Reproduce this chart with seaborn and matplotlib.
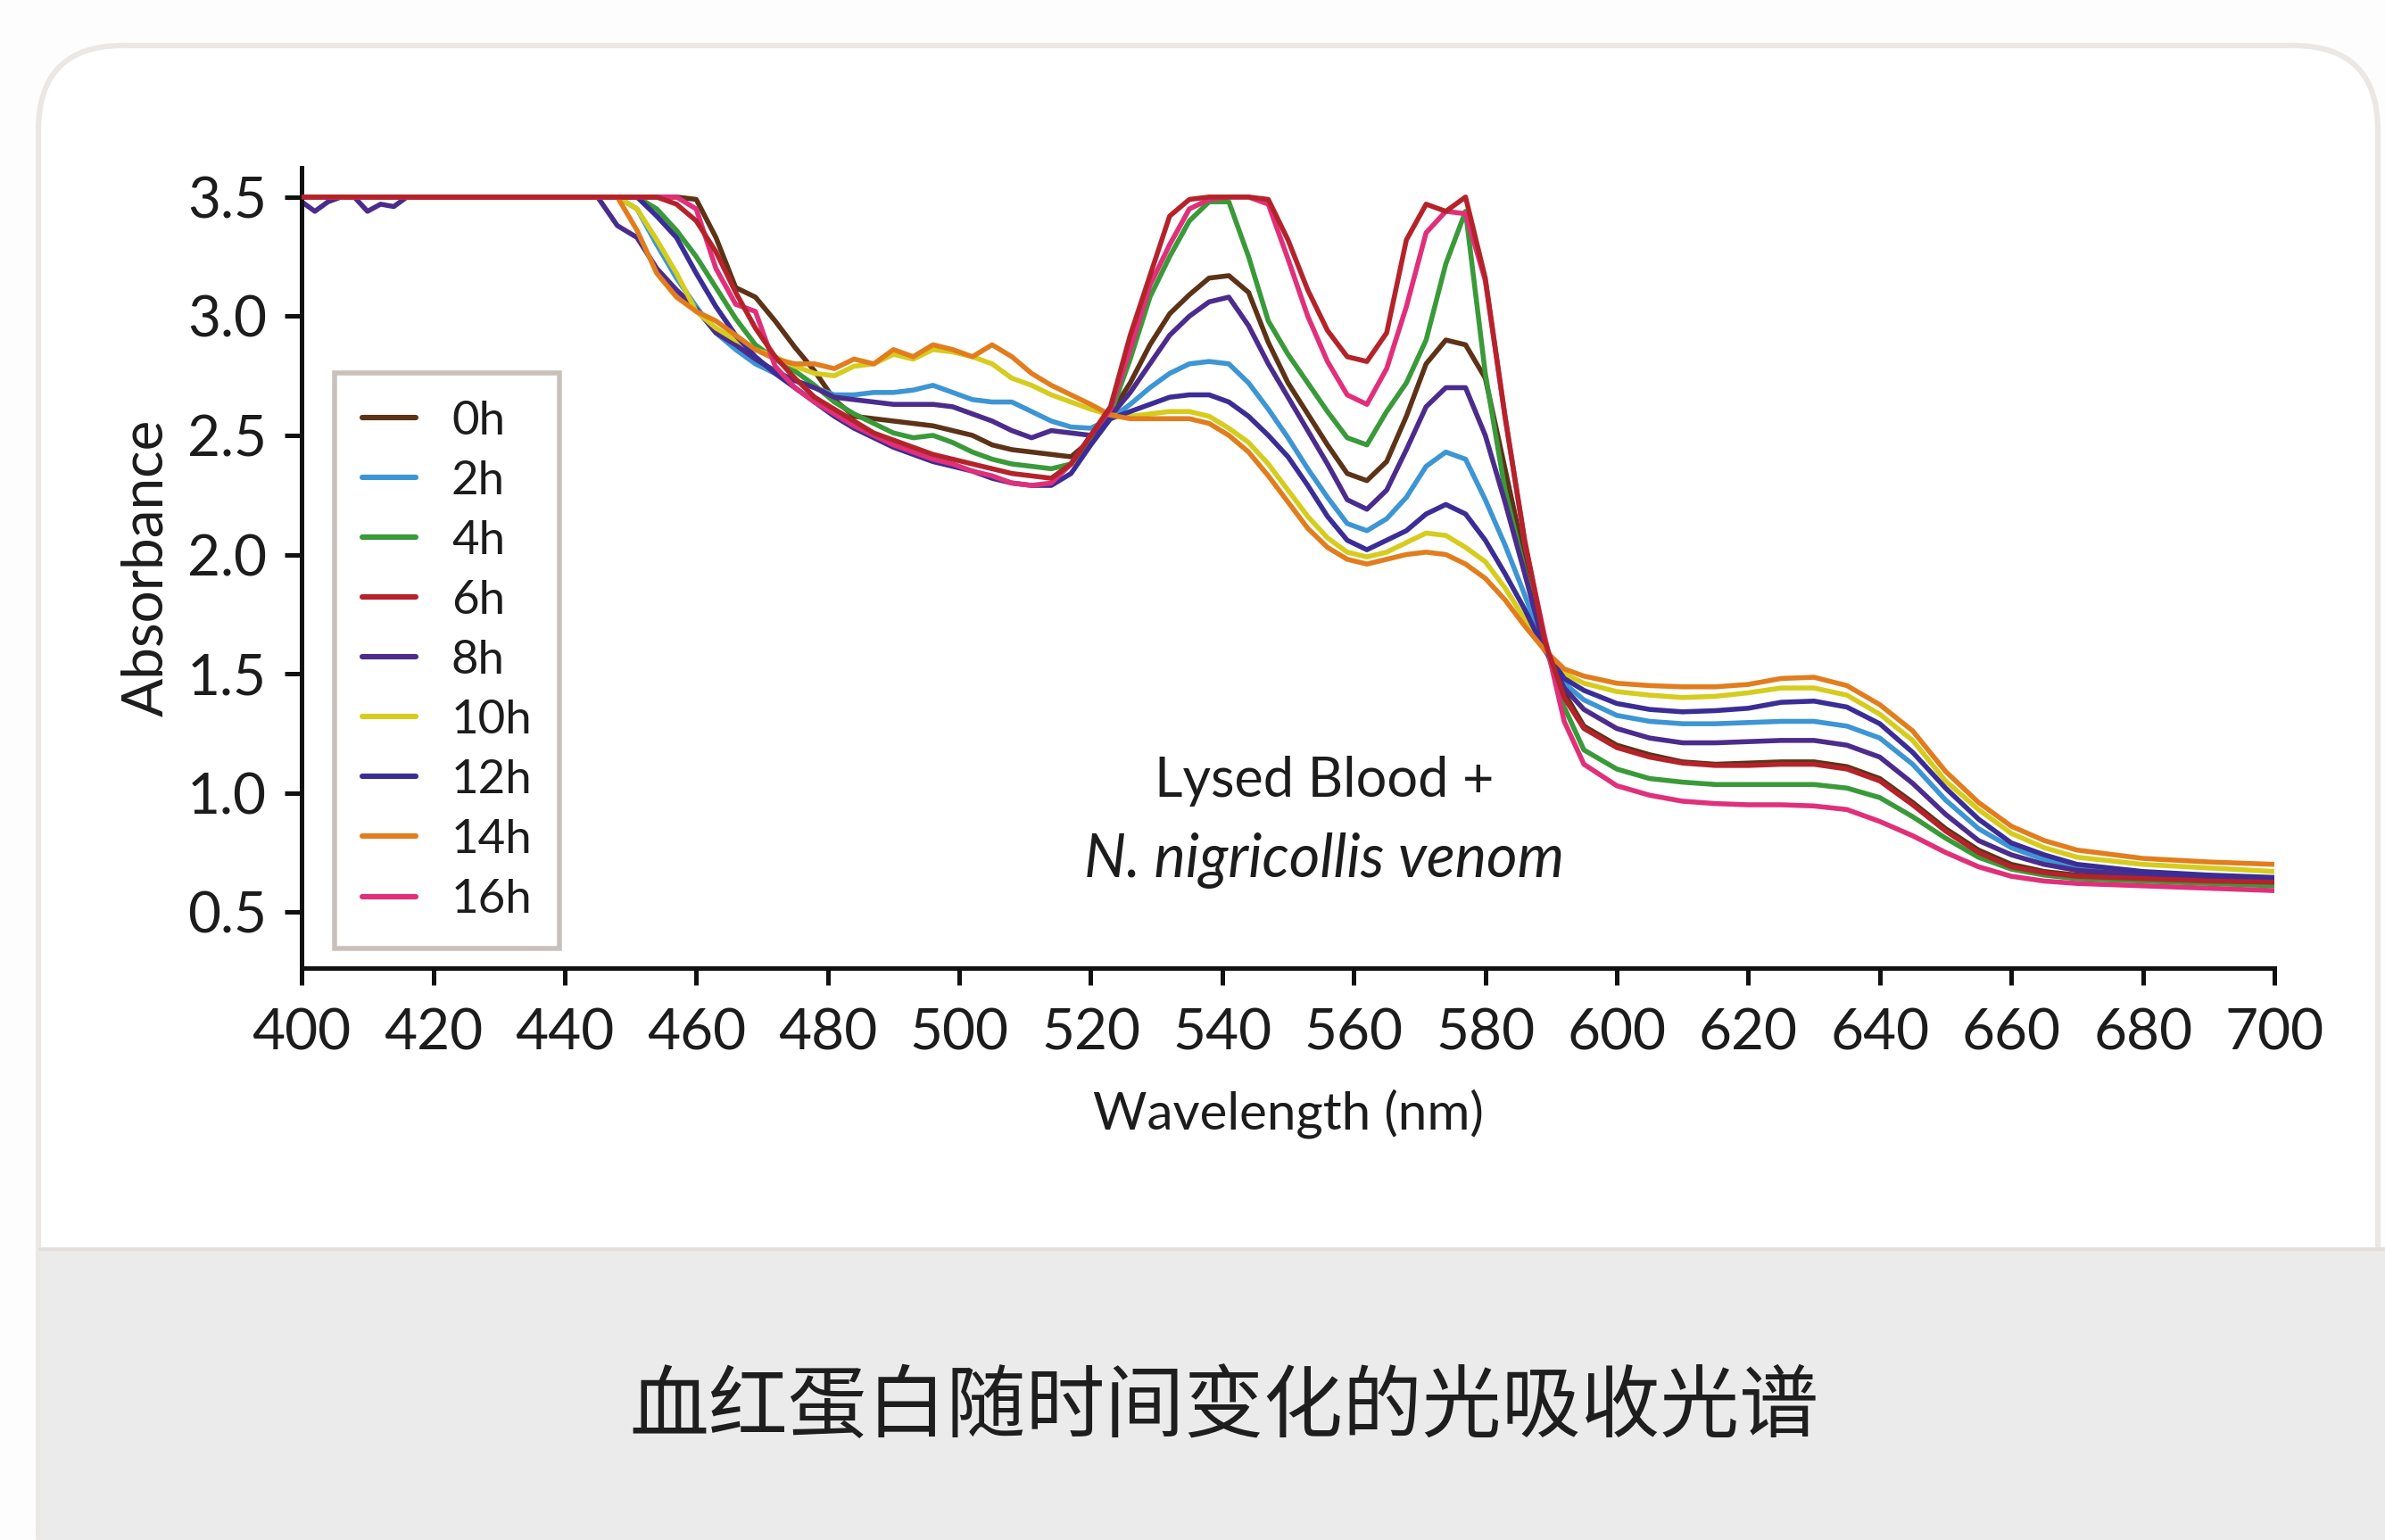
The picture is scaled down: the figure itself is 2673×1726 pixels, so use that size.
import matplotlib
matplotlib.use("Agg")
import matplotlib.pyplot as plt
import matplotlib.colors as mcolors
from matplotlib.patches import FancyBboxPatch, Rectangle
import numpy as np
import pandas as pd
import seaborn as sns

# ---------------- data ----------------
wavelength = [400, 402, 404, 406, 408, 410, 412, 414, 416, 418,
              445, 448, 451, 454, 457, 460, 463, 466, 469, 472,
              475, 478, 481, 484, 487, 490, 493, 496, 499, 502,
              505, 508, 511, 514, 517, 520, 523, 526, 529, 532,
              535, 538, 541, 544, 547, 550, 553, 556, 559, 562,
              565, 568, 571, 574, 577, 580, 583, 586, 589, 592,
              595, 600, 605, 610, 615, 620, 625, 630, 635, 640,
              645, 650, 655, 660, 665, 670, 680, 690, 700]

abs_0h = [3.5, 3.5, 3.5, 3.5, 3.5, 3.5, 3.5, 3.5, 3.5, 3.5,
          3.5, 3.5, 3.5, 3.5, 3.5, 3.49, 3.33, 3.12, 3.08, 2.98,
          2.87, 2.77, 2.65, 2.58, 2.57, 2.56, 2.55, 2.54, 2.52, 2.50,
          2.46, 2.44, 2.43, 2.42, 2.41, 2.48, 2.59, 2.72, 2.88, 3.01,
          3.09, 3.16, 3.17, 3.10, 2.89, 2.72, 2.59, 2.46, 2.34, 2.31,
          2.39, 2.58, 2.80, 2.90, 2.88, 2.74, 2.36, 1.98, 1.62, 1.42,
          1.28, 1.20, 1.16, 1.13, 1.12, 1.125, 1.13, 1.13, 1.11, 1.06,
          0.96, 0.85, 0.76, 0.70, 0.67, 0.655, 0.645, 0.635, 0.63]

abs_2h = [3.5, 3.5, 3.5, 3.5, 3.5, 3.5, 3.5, 3.5, 3.5, 3.5,
          3.5, 3.5, 3.45, 3.30, 3.16, 3.04, 2.93, 2.86, 2.80, 2.76,
          2.73, 2.70, 2.67, 2.67, 2.68, 2.68, 2.69, 2.71, 2.68, 2.65,
          2.64, 2.64, 2.60, 2.56, 2.535, 2.53, 2.57, 2.63, 2.70, 2.76,
          2.80, 2.81, 2.80, 2.72, 2.61, 2.49, 2.36, 2.24, 2.13, 2.10,
          2.15, 2.24, 2.37, 2.43, 2.40, 2.23, 2.04, 1.83, 1.61, 1.46,
          1.39, 1.325, 1.30, 1.29, 1.29, 1.295, 1.30, 1.30, 1.28, 1.23,
          1.12, 0.97, 0.85, 0.77, 0.72, 0.69, 0.66, 0.645, 0.635]

abs_4h = [3.5, 3.5, 3.5, 3.5, 3.5, 3.5, 3.5, 3.5, 3.5, 3.5,
          3.5, 3.5, 3.5, 3.45, 3.36, 3.25, 3.12, 2.99, 2.88, 2.82,
          2.77, 2.71, 2.64, 2.59, 2.55, 2.51, 2.49, 2.50, 2.47, 2.43,
          2.40, 2.38, 2.37, 2.36, 2.38, 2.48, 2.59, 2.82, 3.08, 3.25,
          3.40, 3.48, 3.48, 3.25, 2.98, 2.84, 2.72, 2.60, 2.49, 2.46,
          2.60, 2.72, 2.90, 3.22, 3.44, 2.76, 2.27, 1.93, 1.63, 1.36,
          1.18, 1.10, 1.06, 1.045, 1.035, 1.035, 1.035, 1.035, 1.02, 0.98,
          0.90, 0.81, 0.73, 0.68, 0.655, 0.64, 0.63, 0.62, 0.61]

abs_6h = [3.5, 3.5, 3.5, 3.5, 3.5, 3.5, 3.5, 3.5, 3.5, 3.5,
          3.5, 3.5, 3.5, 3.5, 3.47, 3.40, 3.27, 3.10, 2.95, 2.83,
          2.74, 2.66, 2.61, 2.56, 2.51, 2.48, 2.45, 2.42, 2.40, 2.38,
          2.36, 2.34, 2.33, 2.32, 2.38, 2.50, 2.62, 2.92, 3.17, 3.42,
          3.49, 3.5, 3.5, 3.5, 3.49, 3.32, 3.11, 2.94, 2.83, 2.81,
          2.93, 3.32, 3.47, 3.44, 3.50, 3.16, 2.58, 2.06, 1.64, 1.40,
          1.27, 1.19, 1.15, 1.125, 1.115, 1.115, 1.12, 1.12, 1.10, 1.05,
          0.95, 0.84, 0.75, 0.69, 0.665, 0.65, 0.64, 0.63, 0.625]

abs_8h = [3.48, 3.44, 3.48, 3.5, 3.5, 3.44, 3.47, 3.46, 3.5, 3.5,
          3.5, 3.38, 3.33, 3.20, 3.11, 3.03, 2.93, 2.88, 2.82, 2.77,
          2.73, 2.70, 2.66, 2.65, 2.64, 2.63, 2.63, 2.63, 2.62, 2.59,
          2.56, 2.52, 2.49, 2.52, 2.51, 2.50, 2.58, 2.68, 2.80, 2.92,
          3.00, 3.06, 3.08, 2.96, 2.80, 2.66, 2.52, 2.38, 2.23, 2.19,
          2.27, 2.44, 2.62, 2.70, 2.70, 2.50, 2.22, 1.92, 1.61, 1.44,
          1.35, 1.27, 1.23, 1.21, 1.21, 1.215, 1.22, 1.22, 1.20, 1.15,
          1.04, 0.91, 0.80, 0.74, 0.70, 0.675, 0.655, 0.645, 0.64]

abs_10h = [3.5, 3.5, 3.5, 3.5, 3.5, 3.5, 3.5, 3.5, 3.5, 3.5,
           3.5, 3.5, 3.45, 3.32, 3.18, 3.02, 2.95, 2.90, 2.86, 2.83,
           2.79, 2.76, 2.75, 2.79, 2.80, 2.84, 2.82, 2.86, 2.85, 2.83,
           2.80, 2.74, 2.71, 2.67, 2.64, 2.61, 2.585, 2.58, 2.59, 2.60,
           2.60, 2.58, 2.53, 2.47, 2.38, 2.27, 2.16, 2.07, 2.01, 1.99,
           2.01, 2.05, 2.09, 2.08, 2.03, 1.97, 1.86, 1.73, 1.60, 1.50,
           1.46, 1.425, 1.41, 1.40, 1.405, 1.42, 1.44, 1.44, 1.41, 1.33,
           1.22, 1.05, 0.93, 0.83, 0.77, 0.73, 0.70, 0.685, 0.67]

abs_12h = [3.5, 3.5, 3.5, 3.5, 3.5, 3.5, 3.5, 3.5, 3.5, 3.5,
           3.5, 3.5, 3.5, 3.42, 3.33, 3.18, 3.04, 2.92, 2.83, 2.76,
           2.70, 2.64, 2.58, 2.53, 2.49, 2.45, 2.42, 2.39, 2.37, 2.35,
           2.32, 2.30, 2.29, 2.29, 2.34, 2.46, 2.57, 2.60, 2.63, 2.66,
           2.67, 2.67, 2.64, 2.58, 2.50, 2.41, 2.29, 2.16, 2.06, 2.02,
           2.06, 2.10, 2.17, 2.21, 2.17, 2.06, 1.92, 1.77, 1.60, 1.48,
           1.43, 1.375, 1.35, 1.34, 1.345, 1.355, 1.38, 1.385, 1.36, 1.29,
           1.17, 1.02, 0.89, 0.79, 0.74, 0.70, 0.67, 0.655, 0.645]

abs_14h = [3.5, 3.5, 3.5, 3.5, 3.5, 3.5, 3.5, 3.5, 3.5, 3.5,
           3.5, 3.5, 3.36, 3.18, 3.08, 3.02, 2.98, 2.92, 2.86, 2.82,
           2.80, 2.80, 2.78, 2.82, 2.80, 2.86, 2.83, 2.88, 2.86, 2.83,
           2.88, 2.83, 2.76, 2.71, 2.67, 2.63, 2.585, 2.57, 2.57, 2.57,
           2.57, 2.55, 2.50, 2.43, 2.33, 2.22, 2.11, 2.03, 1.98, 1.96,
           1.98, 2.00, 2.01, 2.00, 1.96, 1.90, 1.81, 1.70, 1.60, 1.52,
           1.49, 1.46, 1.45, 1.445, 1.445, 1.455, 1.48, 1.485, 1.45, 1.37,
           1.26, 1.09, 0.96, 0.86, 0.80, 0.76, 0.725, 0.71, 0.70]

abs_16h = [3.5, 3.5, 3.5, 3.5, 3.5, 3.5, 3.5, 3.5, 3.5, 3.5,
           3.5, 3.5, 3.5, 3.5, 3.5, 3.45, 3.20, 3.05, 3.02, 2.79,
           2.70, 2.64, 2.59, 2.54, 2.50, 2.46, 2.43, 2.40, 2.38, 2.35,
           2.33, 2.30, 2.29, 2.30, 2.38, 2.50, 2.61, 2.86, 3.13, 3.30,
           3.45, 3.49, 3.5, 3.5, 3.47, 3.24, 3.00, 2.81, 2.67, 2.63,
           2.78, 3.04, 3.35, 3.44, 3.43, 3.15, 2.58, 2.05, 1.66, 1.30,
           1.12, 1.03, 0.99, 0.965, 0.955, 0.95, 0.95, 0.945, 0.93, 0.88,
           0.82, 0.75, 0.69, 0.65, 0.63, 0.62, 0.61, 0.60, 0.59]

times = ["0h", "2h", "4h", "6h", "8h", "10h", "12h", "14h", "16h"]
series = [abs_0h, abs_2h, abs_4h, abs_6h, abs_8h, abs_10h, abs_12h, abs_14h, abs_16h]
line_colors = ["#5c3317", "#3d95d4", "#3a9a3a", "#b5232a", "#4b2c8c",
               "#d6cc1e", "#3b2d96", "#e27d1e", "#e0307a"]

x_ticks = list(range(400, 701, 20))
y_ticks = [0.5, 1.0, 1.5, 2.0, 2.5, 3.0, 3.5]
caption = "血红蛋白随时间变化的光吸收光谱"

# ---------------- table ----------------
rows = []
for t, vals in zip(times, series):
    for w, v in zip(wavelength, vals):
        rows.append((t, w, v))
df = pd.DataFrame(rows, columns=["Time", "Wavelength", "Absorbance"])

# ---------------- style ----------------
sns.set_theme(style="ticks")
plt.rcParams["font.family"] = ["Lato", "Noto Sans CJK SC", "DejaVu Sans"]
plt.rcParams["text.color"] = "#1c1c1c"
plt.rcParams["axes.labelcolor"] = "#1c1c1c"
plt.rcParams["xtick.color"] = "#1c1c1c"
plt.rcParams["ytick.color"] = "#1c1c1c"

W, H, DPI = 2673, 1726, 200
fig = plt.figure(figsize=(W / DPI, H / DPI), dpi=DPI)
fig.patch.set_facecolor("#fdfdfd")

# background card (pixel coordinates)
bg = fig.add_axes([0, 0, 1, 1], zorder=0)
bg.set_xlim(0, W)
bg.set_ylim(H, 0)
bg.axis("off")
card = FancyBboxPatch((43, 51), 2622, 1760,
                      boxstyle="round,pad=0,rounding_size=95",
                      fc="white", ec="#ebe7e5", lw=2.2)
bg.add_patch(card)
bg.add_patch(Rectangle((45, 1400), W - 45, 340, fc="#ebebeb", ec="none"))
bg.plot([45, W], [1400, 1400], color="#e2dedc", lw=1.5)
bg.text(1372, 1579, caption, ha="center", va="center", fontsize=32,
        family=["Noto Sans CJK SC", "DejaVu Sans"], color="#1e1e1e")

# main axes
ax = fig.add_axes([0.1265, 0.3714, 0.8271, 0.5197], zorder=2)
ax.set_facecolor("none")
palette = dict(zip(times, line_colors))
sns.lineplot(data=df, x="Wavelength", y="Absorbance", hue="Time",
             hue_order=times, palette=palette, estimator=None, sort=False,
             linewidth=2.0, ax=ax)

red_hex = mcolors.to_hex(palette["6h"])
for ln in ax.lines:
    ln.set_solid_joinstyle("round")
    if mcolors.to_hex(ln.get_color()) == red_hex:
        ln.set_zorder(3)

ax.set_xlim(400, 700)
ax.set_ylim(0.265, 3.623)
ax.set_xticks(x_ticks)
ax.set_yticks(y_ticks)
ax.set_yticklabels([f"{v:.1f}" for v in y_ticks])
for s in ["top", "right"]:
    ax.spines[s].set_visible(False)
for s in ["left", "bottom"]:
    ax.spines[s].set_linewidth(1.8)
    ax.spines[s].set_color("#111111")
ax.tick_params(axis="both", direction="out", length=7, width=1.8,
               labelsize=23, color="#111111")
ax.tick_params(axis="x", pad=9)
ax.tick_params(axis="y", pad=7)
ax.set_xlabel("Wavelength (nm)", fontsize=21, labelpad=12)
ax.set_ylabel("Absorbance", fontsize=23, labelpad=6)

# legend
leg = ax.get_legend()
handles = leg.legend_handles
labels = [t.get_text() for t in leg.get_texts()]
leg.remove()
for h in handles:
    h.set_linewidth(2.2)
new_leg = ax.legend(handles, labels, loc="upper left",
                    bbox_to_anchor=(0.0167, 0.7436), borderaxespad=0,
                    frameon=True, fancybox=False, edgecolor="#c8c0ba",
                    framealpha=1, fontsize=19, handlelength=1.15,
                    handletextpad=0.75, labelspacing=0.38, borderpad=0.58)
new_leg.get_frame().set_linewidth(2.0)

# annotation
ax.text(555.5, 1.05, "Lysed Blood +", ha="center", va="center", fontsize=22)
ax.text(555.5, 0.715, "N. nigricollis venom", ha="center", va="center",
        fontsize=24, style="italic")

fig.savefig("out.png", dpi=DPI, facecolor=fig.get_facecolor())
